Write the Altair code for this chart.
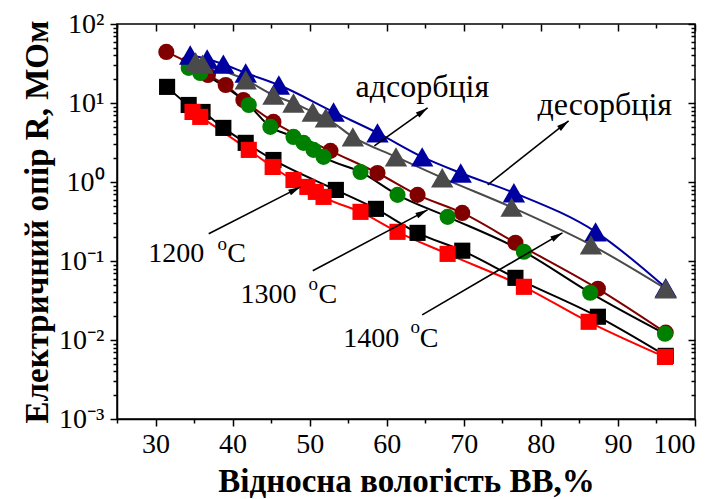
import math
import altair as alt
import pandas as pd

FONT = "Liberation Serif, Times New Roman, serif"

# Relative humidity (%) and electrical resistance (MOhm) for each curve
hum_1200_a = [31.5, 34.3, 36.1, 38.8, 41.7, 45.3, 53.4, 58.6, 64.0, 69.8, 76.7, 87.4, 96.2]
res_1200_a = [16.0, 9.44, 7.7, 4.84, 3.13, 1.90, 0.794, 0.457, 0.227, 0.135, 0.0612, 0.0197, 0.0063]

hum_1200_b = [34.8, 35.8, 42.1, 45.2, 47.9, 49.7, 50.8, 51.8, 56.6, 61.4, 67.9, 77.8, 86.2, 96.1]
res_1200_b = [7.7, 6.67, 2.55, 1.55, 1.06, 0.867, 0.75, 0.648, 0.419, 0.234, 0.123, 0.0471, 0.017, 0.0061]

hum_1300_a = [31.4, 34.3, 36.8, 39.1, 41.4, 45.3, 52.7, 58.8, 64.0, 69.8, 76.7, 87.4, 96.2]
res_1300_a = [44.3, 32.1, 22.6, 16.9, 10.9, 5.76, 2.48, 1.30, 0.687, 0.406, 0.170, 0.0445, 0.0124]

hum_1300_b = [34.3, 35.8, 42.1, 44.9, 47.9, 49.2, 50.5, 51.8, 56.6, 61.4, 67.9, 77.8, 86.4, 96.1]
res_1300_b = [27.8, 24.0, 9.44, 4.98, 3.72, 3.13, 2.55, 2.08, 1.34, 0.687, 0.362, 0.131, 0.0396, 0.012]

hum_1400_a = [34.5, 36.7, 38.8, 41.7, 46.0, 53.1, 58.8, 64.6, 69.6, 76.5, 87.1, 96.2]
res_1400_a = [40.5, 36.0, 31.0, 24.0, 16.9, 7.7, 4.18, 2.08, 1.30, 0.73, 0.234, 0.0458]

hum_1400_b = [35.2, 36.1, 41.7, 45.3, 47.9, 50.4, 52.1, 55.6, 61.2, 67.2, 76.2, 86.5, 96.2]
res_1400_b = [33.0, 31.0, 19.6, 12.6, 10.0, 7.7, 6.5, 3.72, 2.08, 1.13, 0.48, 0.16, 0.0445]

# curve key, line colour, marker fill, marker shape, marker area (px^2)
curves = [
    ("1300_a", hum_1300_a, res_1300_a, "#800000", "#800000", "circle", 260),
    ("1300_b", hum_1300_b, res_1300_b, "#000000", "#008000", "circle", 260),
    ("1200_a", hum_1200_a, res_1200_a, "#000000", "#000000", "square", 260),
    ("1200_b", hum_1200_b, res_1200_b, "#ff0000", "#ff0000", "square", 260),
    ("1400_a", hum_1400_a, res_1400_a, "#0000a0", "#0000a0", "triangle-up", 500),
    ("1400_b", hum_1400_b, res_1400_b, "#4a4a4a", "#4a4a4a", "triangle-up", 500),
]

rows = []
for order, (key, hs, rs, lc, fc, shp, sz) in enumerate(curves):
    for i, (h, r) in enumerate(zip(hs, rs)):
        rows.append({"curve": key, "hum": h, "res": r, "ord": order * 100 + i,
                     "fillc": fc, "shp": shp, "sz": sz})
df = pd.DataFrame(rows)

keys = [c[0] for c in curves]
line_colors = [c[3] for c in curves]

# Annotation arrows: start and end points in data units
arrow_x = [58.4, 73.1, 36.9, 50.4, 64.6]
arrow_y = [2.86, 0.92, 0.221, 0.0751, 0.0208]
arrow_x2 = [65.3, 83.6, 48.8, 65.3, 82.8]
arrow_y2 = [8.66, 5.93, 0.867, 0.444, 0.227]

# Annotation texts (left edge, baseline)
word_txt = ["адсорбція", "десорбція"]
word_x = [55.95, 79.57]
word_y = [12.04, 7.06]
label_txt = ["1200", "C", "1300", "C", "1400", "C"]
label_x = [29.07, 39.32, 41.02, 51.14, 54.35, 64.29]
label_y = [0.0976, 0.0976, 0.0293, 0.0293, 0.00814, 0.00814]
sup_txt = ["o", "o", "o"]
sup_x = [38.03, 49.85, 63.09]
sup_y = [0.1385, 0.0432, 0.01235]

W, H = 578, 395
X_DOM = [25, 100]
Y_DOM = [1e-3, 1e2]


def to_px(x, y):
    px = (x - X_DOM[0]) / (X_DOM[1] - X_DOM[0]) * W
    py = (math.log10(Y_DOM[1]) - math.log10(y)) / (math.log10(Y_DOM[1]) - math.log10(Y_DOM[0])) * H
    return px, py


arr = pd.DataFrame({"x": arrow_x, "y": arrow_y, "x2": arrow_x2, "y2": arrow_y2})
angles = []
for a, b, c, d in zip(arrow_x, arrow_y, arrow_x2, arrow_y2):
    p0 = to_px(a, b)
    p1 = to_px(c, d)
    angles.append(math.degrees(math.atan2(p1[0] - p0[0], -(p1[1] - p0[1]))) % 360)
arr["ang"] = angles

words = pd.DataFrame({"t": word_txt, "x": word_x, "y": word_y})
labels = pd.DataFrame({"t": label_txt, "x": label_x, "y": label_y})
sups = pd.DataFrame({"t": sup_txt, "x": sup_x, "y": sup_y})

xs = alt.Scale(domain=X_DOM, nice=False, zero=False)
ys = alt.Scale(type="log", domain=Y_DOM, nice=False)

major_x = list(range(30, 101, 10))
minor_x = list(range(25, 100, 10))
major_y = [1e-3, 1e-2, 1e-1, 1e0, 1e1, 1e2]
minor_y = [m * 10.0 ** e for e in range(-3, 2) for m in range(2, 10)]

y_label_expr = (
    "datum.value >= 50 ? '10²' : datum.value >= 5 ? '10¹' : "
    "datum.value >= 0.5 ? '10⁰' : datum.value >= 0.05 ? '10⁻¹' : "
    "datum.value >= 0.005 ? '10⁻²' : '10⁻³'"
)

tick_common = dict(grid=False, tickColor="black", tickWidth=1.5, domain=False, labels=False, title=None)

ax_bottom = alt.Axis(
    orient="bottom", values=major_x, tickSize=7, tickWidth=1.5, tickColor="black",
    domain=True, domainColor="black", domainWidth=1.5, grid=False,
    labelFont=FONT, labelFontSize=28, labelColor="black", labelPadding=4,
    title="Відносна вологість BB,%", titleFont=FONT, titleFontSize=33,
    titleFontWeight="bold", titleColor="black", titlePadding=7,
)
ax_left = alt.Axis(
    orient="left", values=major_y, tickSize=7, tickWidth=1.5, tickColor="black",
    domain=True, domainColor="black", domainWidth=1.5, grid=False,
    labelFont=FONT, labelFontSize=28, labelColor="black", labelPadding=6,
    labelExpr=y_label_expr,
    title="Електричний опір R, МОм", titleFont=FONT, titleFontSize=33,
    titleFontWeight="bold", titleColor="black", titlePadding=4,
)
ax_bottom_minor = alt.Axis(orient="bottom", values=minor_x, tickSize=4, **tick_common)
ax_left_minor = alt.Axis(orient="left", values=minor_y, tickSize=4, **tick_common)
ax_top = alt.Axis(orient="top", values=major_x, tickSize=7, offset=-7, **tick_common)
ax_right = alt.Axis(orient="right", values=major_y, tickSize=7, offset=-7, **tick_common)
ax_top_minor = alt.Axis(orient="top", values=minor_x, tickSize=4, offset=-4, **tick_common)
ax_right_minor = alt.Axis(orient="right", values=minor_y, tickSize=4, offset=-4, **tick_common)

lines = alt.Chart(df).mark_line(strokeWidth=2, interpolate="monotone").encode(
    x=alt.X("hum:Q", scale=xs, axis=ax_bottom),
    y=alt.Y("res:Q", scale=ys, axis=ax_left),
    color=alt.Color("curve:N", scale=alt.Scale(domain=keys, range=line_colors), legend=None),
    detail="curve:N",
    order="ord:Q",
)

points = alt.Chart(df).mark_point(filled=True, opacity=1, strokeWidth=0).encode(
    x=alt.X("hum:Q", scale=xs, axis=ax_bottom_minor),
    y=alt.Y("res:Q", scale=ys, axis=ax_left_minor),
    fill=alt.Fill("fillc:N", scale=None),
    shape=alt.Shape("shp:N", scale=None),
    size=alt.Size("sz:Q", scale=None),
    order="ord:Q",
)

arrows = alt.Chart(arr).mark_rule(color="black", strokeWidth=1.6).encode(
    x=alt.X("x:Q", scale=xs, axis=ax_top),
    y=alt.Y("y:Q", scale=ys, axis=ax_right),
    x2="x2:Q",
    y2="y2:Q",
)

heads = alt.Chart(arr).mark_point(
    shape="M0,0L-0.5,2L0.5,2Z", filled=True, fill="black", opacity=1, size=150
).encode(
    x=alt.X("x2:Q", scale=xs, axis=None),
    y=alt.Y("y2:Q", scale=ys, axis=None),
    angle=alt.Angle("ang:Q", scale=None),
)

word_texts = alt.Chart(words).mark_text(
    font=FONT, fontSize=32, align="left", baseline="alphabetic", color="black"
).encode(
    x=alt.X("x:Q", scale=xs, axis=ax_top_minor),
    y=alt.Y("y:Q", scale=ys, axis=ax_right_minor),
    text="t:N",
)

texts = alt.Chart(labels).mark_text(
    font=FONT, fontSize=28, align="left", baseline="alphabetic", color="black"
).encode(
    x=alt.X("x:Q", scale=xs, axis=None),
    y=alt.Y("y:Q", scale=ys, axis=None),
    text="t:N",
)

sup_texts = alt.Chart(sups).mark_text(
    font=FONT, fontSize=19, align="left", baseline="alphabetic", color="black"
).encode(
    x=alt.X("x:Q", scale=xs, axis=None),
    y=alt.Y("y:Q", scale=ys, axis=None),
    text="t:N",
)

chart = (
    alt.layer(lines, points, arrows, heads, word_texts, texts, sup_texts)
    .resolve_axis(x="independent", y="independent")
    .properties(
        width=W, height=H,
        autosize=alt.AutoSizeParams(type="none"),
        padding={"left": 117, "top": 24, "right": 27, "bottom": 80},
        background="white",
    )
    .configure_view(stroke="black", strokeWidth=1.5)
)

chart.save("out.html", embed_options={"renderer": "svg", "actions": False})
